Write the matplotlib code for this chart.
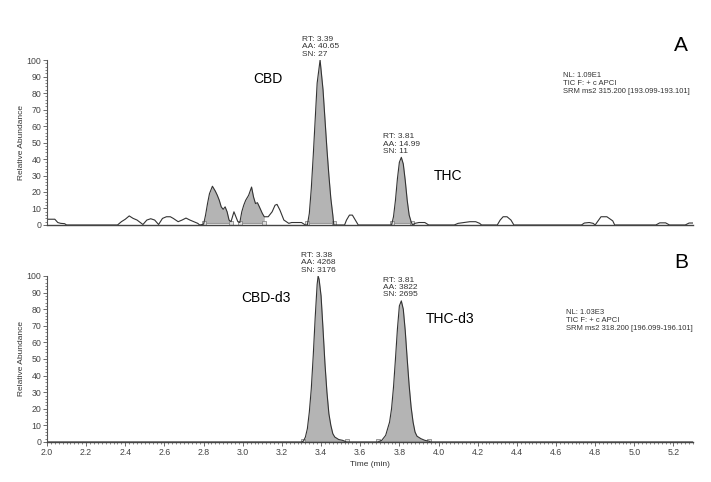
import numpy as np
import matplotlib.pyplot as plt
from matplotlib.ticker import MultipleLocator

plt.rcParams['font.family'] = ['Liberation Sans', 'DejaVu Sans']

# panel A trace (time in min, relative abundance)
a_time = [2.00, 2.04, 2.055, 2.07, 2.09, 2.10, 2.36, 2.38, 2.40, 2.42, 2.44, 2.46, 2.49,
          2.51, 2.53, 2.55, 2.57, 2.59, 2.61, 2.63, 2.645, 2.67, 2.69, 2.71, 2.73, 2.75,
          2.77, 2.78, 2.80, 2.81, 2.82, 2.83, 2.845, 2.86, 2.87, 2.88, 2.89, 2.90, 2.91,
          2.92, 2.93, 2.94, 2.955, 2.965, 2.975, 2.985, 2.995, 3.005, 3.015, 3.03, 3.045,
          3.055, 3.065, 3.075, 3.085, 3.10, 3.11, 3.13, 3.15, 3.165, 3.175, 3.19, 3.21,
          3.235, 3.25, 3.30, 3.32, 3.33, 3.34, 3.35, 3.36, 3.37, 3.38, 3.395, 3.41,
          3.42, 3.43, 3.44, 3.45, 3.46, 3.465, 3.52, 3.53, 3.545, 3.56, 3.575, 3.59,
          3.76, 3.77, 3.78, 3.79, 3.80, 3.81, 3.82, 3.83, 3.84, 3.85, 3.86, 3.867, 3.88,
          3.90, 3.93, 3.95, 4.08, 4.10, 4.13, 4.16, 4.19, 4.21, 4.22, 4.30, 4.315, 4.33,
          4.35, 4.37, 4.385, 4.73, 4.745, 4.77, 4.79, 4.80, 4.815, 4.83, 4.86, 4.89, 4.90,
          5.11, 5.13, 5.16, 5.18, 5.26, 5.28, 5.31]
a_int = [3.5, 3.5, 1.5, 1.0, 0.8, 0, 0, 2, 3.5, 5.5, 4, 3, 0.3,
         3, 3.8, 3, 0.3, 4, 5, 5, 4, 2, 3, 4.2, 3, 2,
         1, 0, 0.5, 6, 13, 19, 23.5, 20.5, 18, 15, 11, 9.5, 11,
         8, 3, 2, 8, 5, 2, 1.5, 8, 12, 15, 18, 23,
         17, 13, 13.5, 11, 7, 5, 5, 8, 12, 12.5, 9, 3,
         1, 1.5, 1.5, 0, 0, 7, 22, 42, 64, 86, 100, 82,
         64, 46, 30, 16, 6, 0, 0, 3, 6, 6, 3, 0,
         0, 5, 15, 28, 38, 41, 37, 27, 15, 6, 2, 0, 1,
         1.5, 1.5, 0, 0, 1, 1.5, 2, 2, 1, 0, 0, 3, 5,
         5, 3, 0, 0, 1.2, 1.5, 1, 0, 2.5, 5, 5, 2.5, 0,
         0, 1.3, 1.3, 0, 0, 1.2, 1.2]
# integrated windows in panel A
a_windows = [(2.80, 2.94), (2.985, 3.11), (3.33, 3.465), (3.76, 3.867)]

# panel B trace
b_time = [2.00, 3.30, 3.31, 3.32, 3.33, 3.34, 3.35, 3.36, 3.37, 3.38, 3.385, 3.39, 3.40,
          3.41, 3.42, 3.43, 3.44, 3.45, 3.46, 3.47, 3.49, 3.51, 3.53, 3.69, 3.71, 3.73,
          3.75, 3.76, 3.77, 3.78, 3.79, 3.80, 3.81, 3.82, 3.83, 3.84, 3.85, 3.86, 3.87,
          3.88, 3.89, 3.91, 3.93, 3.95, 3.96, 5.31]
b_int = [0, 0, 0.5, 3, 8, 18, 32, 52, 75, 95, 100, 98, 88,
         68, 47, 30, 17, 10, 5, 3, 1.5, 1, 0, 0, 1, 4,
         12, 20, 33, 50, 68, 82, 85, 80, 67, 50, 34, 21, 12,
         6, 3.5, 2, 1, 0.5, 0, 0]
b_windows = [(3.31, 3.53), (3.69, 3.95)]

a_labels = [(3.395, 100, 'RT: 3.39\nAA: 40.65\nSN: 27'),
            (3.81, 41, 'RT: 3.81\nAA: 14.99\nSN: 11')]
b_labels = [(3.385, 100, 'RT: 3.38\nAA: 4268\nSN: 3176'),
            (3.805, 85, 'RT: 3.81\nAA: 3822\nSN: 2695')]

fig = plt.figure(figsize=(7.11, 4.82), dpi=100)
ax_a = fig.add_axes([0.0661, 0.5332, 0.9086, 0.3423])
ax_b = fig.add_axes([0.0661, 0.0830, 0.9086, 0.3444])


def draw_panel(ax, t, y, windows, labels, base, show_x):
    t = np.array(t)
    y = np.array(y)
    for lo, hi in windows:
        m = (t >= lo) & (t <= hi)
        ax.fill_between(t[m], y[m], base, color='#b4b4b4', lw=0)
        ax.plot([lo, hi], [base, base], color='#999999', lw=0.8)
        ax.plot([lo, hi], [base, base], 's', ms=3, mfc='#e0e0e0', mec='#777777', mew=0.5)
    ax.plot(t, y, color='#333333', lw=0.8)
    for x, v, s in labels:
        ax.text(x, v + 1.5, s, ha='center', va='bottom', fontsize=6, multialignment='left',
                color='#333333', linespacing=1.05, clip_on=False)
    ax.set_xlim(2.0, 5.30)
    ax.set_ylim(0, 100)
    ax.yaxis.set_major_locator(MultipleLocator(10))
    ax.yaxis.set_minor_locator(MultipleLocator(2))
    ax.xaxis.set_major_locator(MultipleLocator(0.2))
    ax.xaxis.set_minor_locator(MultipleLocator(0.02))
    for side in ['top', 'right']:
        ax.spines[side].set_visible(False)
    ax.spines['left'].set_color('#555555')
    ax.spines['bottom'].set_color('#444444')
    ax.spines['left'].set_linewidth(0.8)
    ax.spines['bottom'].set_linewidth(1.0)
    ax.tick_params(axis='both', which='major', length=3, width=0.6, color='#555555',
                   labelsize=6.3, labelcolor='#444444', pad=1)
    ax.tick_params(axis='both', which='minor', length=1.5, width=0.5, color='#555555')
    ax.set_ylabel('Relative Abundance', fontsize=6, color='#333333', labelpad=1)
    if not show_x:
        ax.tick_params(axis='x', which='both', bottom=False, labelbottom=False)
    ax.patch.set_alpha(0)


draw_panel(ax_a, a_time, a_int, a_windows, a_labels, 1.5, False)
draw_panel(ax_b, b_time, b_int, b_windows, b_labels, 0.3, True)
ax_b.set_xlabel('Time (min)', fontsize=6, color='#333333', labelpad=3)

ax_a.text(3.13, 88.5, 'CBD', fontsize=10, ha='center', va='center')
ax_a.text(4.05, 30, 'THC', fontsize=10, ha='center', va='center')
ax_a.text(5.24, 109, 'A', fontsize=15, ha='center', va='center', clip_on=False)
ax_a.text(4.635, 93, 'NL: 1.09E1\nTIC F: + c APCI\nSRM ms2 315.200 [193.099-193.101]',
          fontsize=5.5, color='#333333', va='top', ha='left', linespacing=1.2)

ax_b.text(3.12, 87, 'CBD-d3', fontsize=10, ha='center', va='center')
ax_b.text(4.06, 74, 'THC-d3', fontsize=10, ha='center', va='center')
ax_b.text(5.24, 108, 'B', fontsize=15, ha='center', va='center', clip_on=False)
ax_b.text(4.65, 80, 'NL: 1.03E3\nTIC F: + c APCI\nSRM ms2 318.200 [196.099-196.101]',
          fontsize=5.5, color='#333333', va='top', ha='left', linespacing=1.2)

fig.savefig('out.png', dpi=100)
